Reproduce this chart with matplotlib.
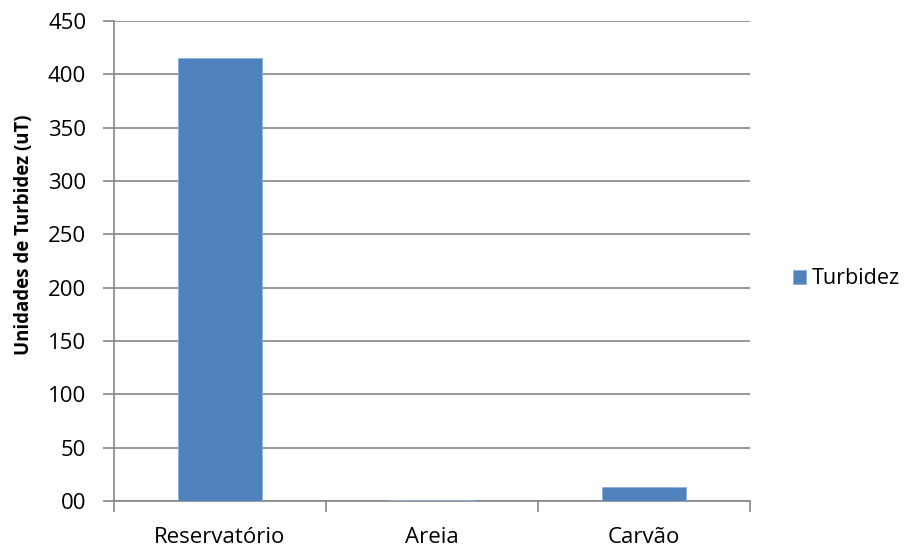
import matplotlib.pyplot as plt
from matplotlib.ticker import FuncFormatter, FixedLocator

# Turbidity per stage of the filter
categorias = ['Reservatório', 'Areia', 'Carvão']
turbidez = [415, 1, 13.5]

plt.rcParams['font.family'] = ['Open Sans', 'DejaVu Sans']

fig = plt.figure(figsize=(9.12, 5.52), dpi=100)
ax = fig.add_axes([114 / 912, 1 - 501 / 552, (750 - 114) / 912, 480 / 552])

x = range(len(categorias))
barras = ax.bar(x, turbidez, width=0.4, color='#4F81BD', edgecolor='#8EB0DA',
                linewidth=0.6, label='Turbidez', zorder=3)

ax.set_xlim(-0.5, len(categorias) - 0.5)
ax.set_ylim(0, 450)
ax.set_yticks(range(0, 451, 50))
ax.yaxis.set_major_formatter(FuncFormatter(lambda v, p: '%02d' % v))
ax.grid(axis='y', color='#868686', linewidth=1.2, zorder=0)

# category labels in the middle, tick marks on the boundaries
ax.set_xticks(list(x))
ax.set_xticklabels(categorias)
ax.xaxis.set_minor_locator(FixedLocator([-0.5, 0.5, 1.5, 2.5]))
ax.tick_params(axis='x', which='major', length=0, pad=19, labelsize=16)
ax.tick_params(axis='x', which='minor', length=8, width=1.2, color='#868686')
ax.tick_params(axis='y', length=8, width=1.2, color='#868686', labelsize=16, pad=12)

for lado in ['top', 'right']:
    ax.spines[lado].set_visible(False)
for lado in ['left', 'bottom']:
    ax.spines[lado].set_color('#868686')
    ax.spines[lado].set_linewidth(1.2)

fig.text(24 / 912, 1 - 235 / 552, 'Unidades de Turbidez (uT)', rotation=90,
         ha='center', va='center', fontsize=13.4, fontweight='bold')

fig.legend(handles=[barras], loc='center left', bbox_to_anchor=(793 / 912, 1 - 279 / 552),
           frameon=False, fontsize=15.5, handlelength=0.6, handleheight=0.6,
           handletextpad=0.25, borderpad=0, borderaxespad=0)

fig.savefig('out.png', dpi=100)
